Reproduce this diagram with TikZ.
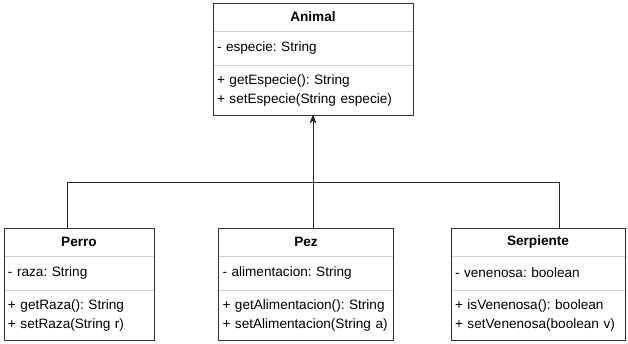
\documentclass[tikz,border=0pt]{standalone}
\usepackage{fontspec}
\setmainfont{Liberation Sans}
\frenchspacing
\usepackage{tikz}
\usetikzlibrary{arrows.meta, positioning}
\tikzstyle{classname} = [rectangle, minimum height=28pt, inner xsep=4pt, inner ysep=0pt, outer sep=0pt, align=center, font=\fontsize{13.6}{18}\selectfont\bfseries, draw=gray!35]
\tikzstyle{classattr} = [rectangle, minimum height=34pt, inner xsep=4pt, inner ysep=0pt, outer sep=0pt, align=left, font=\fontsize{13.6}{18}\selectfont, draw=gray!35]
\tikzstyle{classops} = [rectangle, text height=14pt, text depth=26pt, inner xsep=4pt, inner ysep=5pt, outer sep=0pt, align=left, font=\fontsize{13.6}{19}\selectfont, draw=gray!35]
\tikzstyle{classframe} = [draw=black!80, line width=0.8pt]
\tikzstyle{inherit} = [line width=0.8pt, -{Stealth[length=8pt,width=6pt]}, draw=black!85]

\begin{document}
\begin{tikzpicture}[x=1pt, y=-1pt]
    \useasboundingbox (0,0) rectangle (628,343);

    % superclass
    \node (animal) [classname, text width=192pt, anchor=north west] at (213,3) {Animal};
    \node (animal-attr) [classattr, text width=192pt, below=0pt of animal] {- especie: String};
    \node (animal-ops) [classops, text width=192pt, below=0pt of animal-attr] {+ getEspecie(): String\\+ setEspecie(String especie)};
    \draw [classframe] (animal.north west) rectangle (animal-ops.south east);

    % subclasses
    \node (perro) [classname, text width=142pt, anchor=north west] at (4,228) {Perro};
    \node (perro-attr) [classattr, text width=142pt, below=0pt of perro] {- raza: String};
    \node (perro-ops) [classops, text width=142pt, below=0pt of perro-attr] {+ getRaza(): String\\+ setRaza(String r)};
    \draw [classframe] (perro.north west) rectangle (perro-ops.south east);

    \node (pez) [classname, text width=167pt, anchor=north west] at (218.5,228) {Pez};
    \node (pez-attr) [classattr, text width=167pt, below=0pt of pez] {- alimentacion: String};
    \node (pez-ops) [classops, text width=167pt, below=0pt of pez-attr] {+ getAlimentacion(): String\\+ setAlimentacion(String a)};
    \draw [classframe] (pez.north west) rectangle (pez-ops.south east);

    \node (serpiente) [classname, text width=166pt, anchor=north west] at (451,228) {Serpiente};
    \node (serpiente-attr) [classattr, text width=166pt, below=0pt of serpiente] {- venenosa: boolean};
    \node (serpiente-ops) [classops, text width=166pt, below=0pt of serpiente-attr] {+ isVenenosa(): boolean\\+ setVenenosa(boolean v)};
    \draw [classframe] (serpiente.north west) rectangle (serpiente-ops.south east);

    % inheritance
    \draw [inherit] ([xshift=-12pt]perro.north) -- ++(0,-45.5) -| (animal-ops.south);
    \draw [inherit] (pez.north -| animal-ops.south) -- (animal-ops.south);
    \draw [inherit] ([xshift=21pt]serpiente.north) -- ++(0,-45.5) -| (animal-ops.south);
\end{tikzpicture}
\end{document}
